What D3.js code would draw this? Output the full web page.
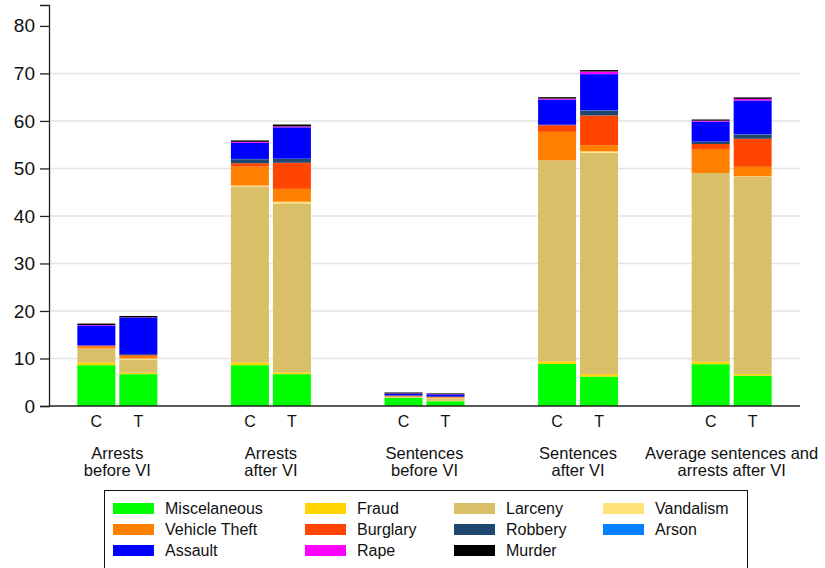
<!DOCTYPE html>
<html>
<head>
<meta charset="utf-8">
<script src="https://cdn.jsdelivr.net/npm/d3@7"></script>
<style>
  body { margin: 0; background: #fff; }
  text { font-family: "Liberation Sans", Arial, sans-serif; fill: #111; }
</style>
</head>
<body>
<script>
// data
var groups = ["Arrests\nbefore VI", "Arrests\nafter VI", "Sentences\nbefore VI", "Sentences\nafter VI", "Average sentences and\narrests after VI"];
var arms = ["C", "T"];
var crimes = ["Miscelaneous", "Fraud", "Larceny", "Vandalism", "Vehicle Theft", "Burglary", "Robbery", "Arson", "Assault", "Rape", "Murder"];
var colors = ["#00ff00", "#ffd400", "#d8bf68", "#ffe27a", "#ff8000", "#ff4500", "#1e4870", "#0080ff", "#0000ff", "#ff00ff", "#000000"];
var yTicks = [0, 10, 20, 30, 40, 50, 60, 70, 80];

// one row per crime, values in order: g1 C, g1 T, g2 C, g2 T, ... g5 T
var miscelaneous = [8.6, 6.7, 8.6, 6.7, 1.7, 1.0, 8.85, 6.2, 8.8, 6.4];
var fraud        = [0.6, 0.3, 0.6, 0.35, 0.05, 0.1, 0.55, 0.5, 0.55, 0.35];
var larceny      = [2.9, 2.8, 37.0, 35.6, 0.2, 0.45, 42.3, 46.6, 39.7, 41.5];
var vandalism    = [0.0, 0.2, 0.2, 0.35, 0.0, 0.1, 0.0, 0.3, 0.0, 0.1];
var vehicleTheft = [0.4, 0.5, 4.0, 2.7, 0.1, 0.15, 6.0, 1.3, 5.05, 2.0];
var burglary     = [0.2, 0.2, 0.7, 5.5, 0.1, 0.1, 1.4, 6.25, 1.05, 5.9];
var robbery      = [0.05, 0.2, 0.85, 0.8, 0.1, 0.1, 0.1, 1.05, 0.5, 0.9];
var arson        = [0.0, 0.0, 0.05, 0.05, 0.0, 0.0, 0.0, 0.05, 0.0, 0.05];
var assault      = [4.2, 7.7, 3.4, 6.6, 0.35, 0.45, 5.3, 7.6, 4.2, 7.1];
var rape         = [0.1, 0.05, 0.2, 0.2, 0.05, 0.05, 0.2, 0.55, 0.2, 0.35];
var murder       = [0.3, 0.3, 0.3, 0.4, 0.2, 0.15, 0.3, 0.3, 0.25, 0.3];
var series = [miscelaneous, fraud, larceny, vandalism, vehicleTheft, burglary, robbery, arson, assault, rape, murder];

var svgWidth = 825, svgHeight = 568;
var plotLeft = 49, plotRight = 800, plotBottom = 406, plotTop = 5;

var svg = d3.select("body").append("svg")
  .attr("width", svgWidth)
  .attr("height", svgHeight);

// build table for stacking
var rows = [];
groups.forEach(function(g, gi) {
  arms.forEach(function(a, ai) {
    var r = { group: g, arm: a };
    crimes.forEach(function(c, ci) { r[c] = series[ci][gi * 2 + ai]; });
    rows.push(r);
  });
});

var stacked = d3.stack().keys(crimes)(rows);

var x0 = d3.scalePoint().domain(groups).range([plotLeft, plotRight]).padding(0.445);
var x1 = d3.scaleBand().domain(arms).range([-40, 40]).paddingInner(0.095).paddingOuter(0);
var y = d3.scaleLinear().domain([0, 84.4]).range([plotBottom, plotTop]);
var color = d3.scaleOrdinal().domain(crimes).range(colors);

// gridlines
svg.append("g")
  .selectAll("line")
  .data(yTicks.filter(function(t) { return t > 0 && t < 80; }))
  .enter().append("line")
  .attr("x1", plotLeft).attr("x2", plotRight)
  .attr("y1", function(d) { return y(d); })
  .attr("y2", function(d) { return y(d); })
  .attr("stroke", "#e3e3e3")
  .attr("stroke-width", 1.5);

// bars
svg.append("g")
  .selectAll("g")
  .data(stacked)
  .enter().append("g")
  .attr("fill", function(d) { return color(d.key); })
  .selectAll("rect")
  .data(function(d) { return d; })
  .enter().append("rect")
  .attr("x", function(d) { return x0(d.data.group) + x1(d.data.arm); })
  .attr("width", x1.bandwidth())
  .attr("y", function(d) { return y(d[1]); })
  .attr("height", function(d) { return Math.max(0, y(d[0]) - y(d[1])); });

// y axis
var yAxis = d3.axisLeft(y).tickValues(yTicks).tickSize(9).tickPadding(5);
var ya = svg.append("g")
  .attr("transform", "translate(" + plotLeft + ",0)")
  .call(yAxis);
ya.select(".domain").attr("stroke", "#222").attr("stroke-width", 1.3);
ya.selectAll(".tick line").attr("stroke", "#222").attr("stroke-width", 1.3);
ya.selectAll(".tick text").attr("font-size", 19).attr("font-family", "Liberation Sans, Arial, sans-serif").attr("fill", "#111");

// x axis baseline
svg.append("line")
  .attr("x1", plotLeft).attr("x2", plotRight)
  .attr("y1", plotBottom).attr("y2", plotBottom)
  .attr("stroke", "#222").attr("stroke-width", 1.5);

// C / T labels
rows.forEach(function(r) {
  svg.append("text")
    .attr("x", x0(r.group) + x1(r.arm) + x1.bandwidth() / 2)
    .attr("y", 427)
    .attr("text-anchor", "middle")
    .attr("font-size", 16)
    .text(r.arm);
});

// group labels
groups.forEach(function(g) {
  var t = svg.append("text")
    .attr("text-anchor", "middle")
    .attr("font-size", 16.5);
  g.split("\n").forEach(function(line, i) {
    t.append("tspan")
      .attr("x", x0(g))
      .attr("y", 459 + i * 17)
      .text(line);
  });
});

// legend
var legend = svg.append("g");
legend.append("rect")
  .attr("x", 104.5).attr("y", 490.5)
  .attr("width", 643).attr("height", 90)
  .attr("fill", "none").attr("stroke", "#111").attr("stroke-width", 1);

var colX = [113, 305, 454, 603];
crimes.forEach(function(c, i) {
  var col = i % 4, row = Math.floor(i / 4);
  var gx = colX[col], gy = 503 + row * 21;
  legend.append("rect")
    .attr("x", gx).attr("y", gy)
    .attr("width", 41).attr("height", 11)
    .attr("fill", color(c));
  legend.append("text")
    .attr("x", gx + 52)
    .attr("y", gy + 11)
    .attr("font-size", 16)
    .text(c);
});
</script>
</body>
</html>
